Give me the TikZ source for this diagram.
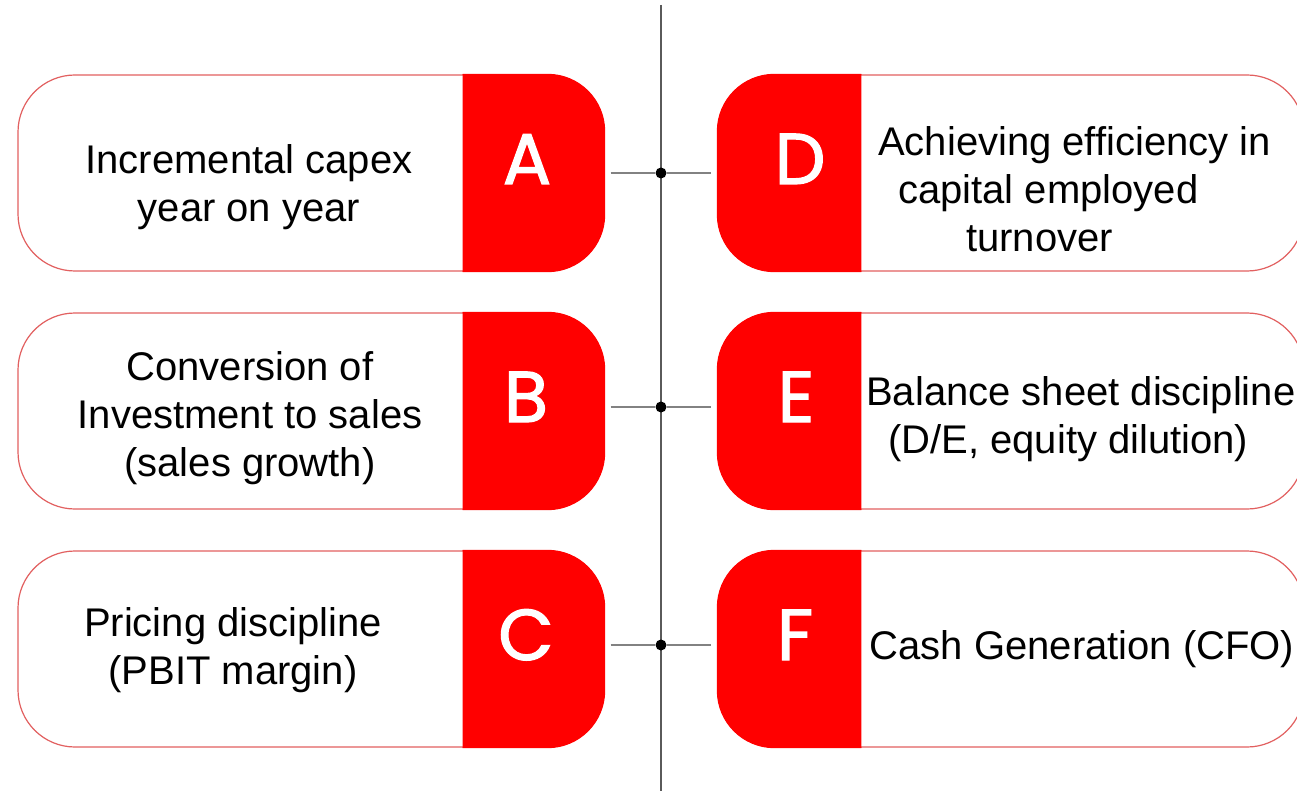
\documentclass[tikz,border=0pt]{standalone}
\usepackage{fontspec}
\setmainfont{Liberation Sans}
\newfontfamily\letterfont[FakeBold=1.6]{Poppins}
\definecolor{tabred}{RGB}{255,0,0}
\definecolor{edgered}{RGB}{226,96,96}
\definecolor{vline}{RGB}{90,90,90}
\definecolor{hline}{RGB}{130,130,130}
\tikzset{
  pill/.style={draw=edgered, fill=white, line width=1.2pt, rounded corners=57pt,
    minimum width=586pt, minimum height=196pt, inner sep=0pt},
  tabfill/.style={fill=tabred, draw=tabred, line width=1.2pt, rounded corners=57pt},
  letter/.style={anchor=base, text=white, font=\letterfont\fontsize{72}{72}\selectfont, inner sep=0pt},
  label/.style={align=center, font=\fontsize{40}{48}\selectfont, inner sep=0pt, text=black},
  dot/.style={circle, fill=black, inner sep=0pt, minimum size=11pt},
  conn/.style={draw=hline, line width=1.5pt},
  spine/.style={draw=vline, line width=1.5pt}
}
\begin{document}
\begin{tikzpicture}[x=1pt, y=-1pt]
\clip (0,0) rectangle (1297,791);
\fill[white] (0,0) rectangle (1297,791);

% spine
\coordinate (top) at (661,5);
\coordinate (bot) at (661,791);
\draw[spine] (top) -- (bot);

% left pills
\node[pill] (A) at (311,173) {};
\node[pill] (B) at (311,411) {};
\node[pill] (C) at (311,649) {};
% right pills
\node[pill] (D) at (1011,173) {};
\node[pill] (E) at (1011,411) {};
\node[pill] (F) at (1011,649) {};

% red tabs
\foreach \n in {A,B,C}{
  \begin{scope}
    \clip ([xshift=-142pt]\n.north east) ++(0,-5) rectangle ([xshift=5pt,yshift=-5pt]\n.south east);
    \path[tabfill] (\n.north west) rectangle (\n.south east);
  \end{scope}
}
\foreach \n in {D,E,F}{
  \begin{scope}
    \clip ([xshift=-5pt]\n.north west) ++(0,-5) rectangle ([xshift=144pt,yshift=-5pt]\n.south west);
    \path[tabfill] (\n.north west) rectangle (\n.south east);
  \end{scope}
}

% letters
\node[letter] (lA) at (527,184) {A};
\node[letter] (lB) at (526,422) {B};
\node[letter] (lC) at (526,660) {C};
\node[letter] (lD) at (800,184) {D};
\node[letter] (lE) at (796,422) {E};
\node[letter] (lF) at (795,660) {F};

% texts
\node[label] (tA) at (249,187.5) {Incremental capex\\year on year};
\node[label] (tB) at (250,418) {Conversion of\\Investment to sales\\(sales growth)};
\node[label] (tC) at (233,650) {Pricing discipline\\(PBIT margin)};
\node[label, align=left, anchor=west] (tD) at (878,189.5) {Achieving efficiency in\\\hspace*{20pt}capital employed\\\hspace*{88pt}turnover};
\node[label, align=left, anchor=west] (tE) at (866,419) {Balance sheet discipline\\\hspace*{22pt}(D/E, equity dilution)};
\node[label, anchor=base] (tF) at (1082,659) {Cash Generation (CFO)};

% dots and connectors
\node[dot] (d1) at (661,173) {};
\node[dot] (d2) at (661,407) {};
\node[dot] (d3) at (661,645) {};
\draw[conn, shorten <=6pt] (A.east |- d1) -- (d1);
\draw[conn, shorten >=6pt] (d1) -- (D.west |- d1);
\draw[conn, shorten <=6pt] (B.east |- d2) -- (d2);
\draw[conn, shorten >=6pt] (d2) -- (E.west |- d2);
\draw[conn, shorten <=6pt] (C.east |- d3) -- (d3);
\draw[conn, shorten >=6pt] (d3) -- (F.west |- d3);
\end{tikzpicture}
\end{document}
